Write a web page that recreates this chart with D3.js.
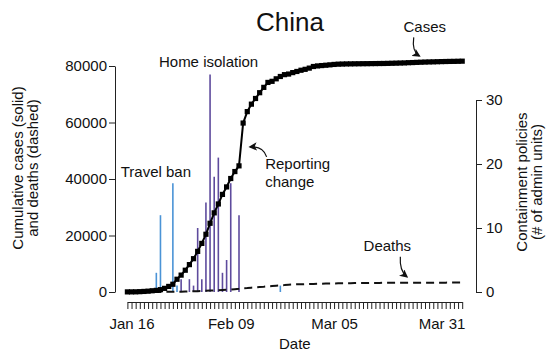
<!DOCTYPE html>
<html>
<head>
<meta charset="utf-8">
<script src="https://cdn.jsdelivr.net/npm/d3@7"></script>
<style>
  body { margin: 0; background: #fff; }
  text { font-family: "Liberation Sans", Arial, Helvetica, sans-serif; fill: #111; }
</style>
</head>
<body>
<svg id="chart" width="550" height="353"></svg>
<script>
// ---- Data: mainland China, daily from 15 Jan to 5 Apr 2020 ----
const firstDay = "2020-01-15";
const lastDay = "2020-04-05";

const cumulativeCases = [
  41, 45, 62, 121, 198, 291, 440, 571, 830, 1287, 1975, 2744, 4515, 5974, 7711, 9692, 11791,
  14380, 17205, 20438, 24324, 28018, 31161, 34546, 37198, 40171, 42638, 44653, 59804, 63851,
  66492, 68500, 70548, 72436, 74185, 74576, 75465, 76288, 76936, 77150, 77658, 78064, 78497,
  78824, 79251, 79824,
  80026, 80151, 80270, 80409, 80552, 80651, 80695, 80735, 80754, 80778, 80793, 80813, 80824,
  80844, 80860, 80881, 80894, 80928, 80967, 81008, 81054, 81093, 81171, 81218, 81285, 81340,
  81394, 81439, 81470, 81518, 81554,
  81589, 81620, 81639, 81669, 81708
];

const cumulativeDeaths = [
  2, 2, 2, 3, 4, 6, 9, 17, 25, 41, 56, 80, 106, 132, 170, 213, 259,
  304, 361, 425, 490, 563, 636, 722, 811, 908, 1016, 1113, 1367, 1380, 1523, 1665, 1770, 1868,
  2004, 2118, 2236, 2345, 2442, 2592, 2663, 2715, 2744, 2788, 2835, 2870,
  2912, 2943, 2981, 3012, 3042, 3070, 3097, 3119, 3136, 3158, 3169, 3176, 3189, 3199, 3213,
  3226, 3237, 3245, 3248, 3255, 3261, 3270, 3277, 3281, 3287, 3292, 3295, 3300, 3304, 3305, 3312,
  3318, 3322, 3326, 3329, 3331
];

// Containment policies (number of admin units adopting on each day)
const travelBanDates  = ["2020-01-22", "2020-01-23", "2020-01-26", "2020-01-27", "2020-02-21"];
const travelBanCounts = [3, 12, 17, 1, 1];

const homeIsolationDates  = ["2020-01-28", "2020-01-30", "2020-01-31", "2020-02-01", "2020-02-02",
                             "2020-02-03", "2020-02-04", "2020-02-05", "2020-02-06", "2020-02-07",
                             "2020-02-08", "2020-02-09", "2020-02-11"];
const homeIsolationCounts = [2, 2, 1, 10, 2, 14, 34, 18, 21, 3, 5, 17, 12];

// Axis ticks
const caseTicks = [0, 20000, 40000, 60000, 80000];
const policyTicks = [0, 10, 20, 30];
const dateLabels = ["2020-01-16", "2020-02-09", "2020-03-05", "2020-03-31"];

// ---- Setup ----
const parse = d3.utcParse("%Y-%m-%d");
const days = d3.utcDay.range(parse(firstDay), d3.utcDay.offset(parse(lastDay), 1));
const series = days.map((d, i) => ({ date: d, cases: cumulativeCases[i], deaths: cumulativeDeaths[i] }));
const travelBan = travelBanDates.map((d, i) => ({ date: parse(d), n: travelBanCounts[i] }));
const homeIsolation = homeIsolationDates.map((d, i) => ({ date: parse(d), n: homeIsolationCounts[i] }));

const svg = d3.select("#chart");

const x = d3.scaleUtc().domain([parse(firstDay), parse(lastDay)]).range([127.4, 462.2]);
const yCases = d3.scaleLinear().domain([0, 80000]).range([292, 66]);
const yPolicy = d3.scaleLinear().domain([0, 30]).range([292, 100]);

const leftAxisX = 115, rightAxisX = 476, bottomAxisY = 302;

// Arrowhead
svg.append("defs").append("marker")
  .attr("id", "head").attr("viewBox", "0 0 10 10")
  .attr("refX", 8).attr("refY", 5)
  .attr("markerWidth", 7).attr("markerHeight", 7)
  .attr("orient", "auto-start-reverse")
  .append("path").attr("d", "M0,0L10,5L0,10L2.5,5Z").attr("fill", "#111");

// Title
svg.append("text").attr("x", 290).attr("y", 31).attr("text-anchor", "middle")
  .style("font-size", "26px").text("China");

// Policy bars
const bars = svg.append("g");
bars.selectAll("line.travel").data(travelBan).join("line")
  .attr("class", "travel")
  .attr("x1", d => x(d.date)).attr("x2", d => x(d.date))
  .attr("y1", yPolicy(0)).attr("y2", d => yPolicy(d.n))
  .attr("stroke", "#4a93d6").attr("stroke-width", 1.6);
bars.selectAll("line.home").data(homeIsolation).join("line")
  .attr("class", "home")
  .attr("x1", d => x(d.date)).attr("x2", d => x(d.date))
  .attr("y1", yPolicy(0)).attr("y2", d => yPolicy(d.n))
  .attr("stroke", "#5e4b9d").attr("stroke-width", 1.6);

// Deaths (dashed)
svg.append("path").datum(series)
  .attr("fill", "none").attr("stroke", "#111").attr("stroke-width", 2)
  .attr("stroke-dasharray", "8,5")
  .attr("d", d3.line().x(d => x(d.date)).y(d => yCases(d.deaths)));

// Cases (solid with square markers)
svg.append("path").datum(series)
  .attr("fill", "none").attr("stroke", "#000").attr("stroke-width", 2)
  .attr("d", d3.line().x(d => x(d.date)).y(d => yCases(d.cases)));
svg.append("g").selectAll("rect").data(series).join("rect")
  .attr("x", d => x(d.date) - 2.6).attr("y", d => yCases(d.cases) - 2.6)
  .attr("width", 5.2).attr("height", 5.2).attr("fill", "#000");

// Axes
function styleAxis(g) {
  g.selectAll("path.domain").attr("stroke", "#222").attr("stroke-width", 1);
  g.selectAll(".tick line").attr("stroke", "#222").attr("stroke-width", 1);
  g.selectAll(".tick text").style("font-size", "15px")
    .style("font-family", '"Liberation Sans", Arial, sans-serif').attr("fill", "#111");
}

svg.append("g").attr("transform", `translate(${leftAxisX},0)`)
  .call(d3.axisLeft(yCases).tickValues(caseTicks).tickSize(6).tickSizeOuter(0).tickPadding(2)
    .tickFormat(d3.format("d")))
  .call(styleAxis);

svg.append("g").attr("transform", `translate(${rightAxisX},0)`)
  .call(d3.axisRight(yPolicy).tickValues(policyTicks).tickSize(6).tickSizeOuter(0).tickPadding(4))
  .call(styleAxis);

const labelSet = new Set(dateLabels);
const fmtKey = d3.utcFormat("%Y-%m-%d");
const fmtLabel = d3.utcFormat("%b %d");
svg.append("g").attr("transform", `translate(0,${bottomAxisY})`)
  .call(d3.axisBottom(x).tickValues(days).tickSize(7).tickSizeOuter(0).tickPadding(9)
    .tickFormat(d => labelSet.has(fmtKey(d)) ? fmtLabel(d) : ""))
  .call(styleAxis);

// Axis titles
svg.append("text").attr("x", (x.range()[0] + x.range()[1]) / 2).attr("y", 349)
  .attr("text-anchor", "middle").style("font-size", "15px").text("Date");

const leftTitle = svg.append("g").attr("transform", "translate(0,168) rotate(-90)");
leftTitle.append("text").attr("x", 0).attr("y", 23).attr("text-anchor", "middle")
  .style("font-size", "15px").text("Cumulative cases (solid)");
leftTitle.append("text").attr("x", 0).attr("y", 38).attr("text-anchor", "middle")
  .style("font-size", "15px").text("and deaths (dashed)");

const rightTitle = svg.append("g").attr("transform", "translate(0,182) rotate(-90)");
rightTitle.append("text").attr("x", 0).attr("y", 527).attr("text-anchor", "middle")
  .style("font-size", "15px").text("Containment policies");
rightTitle.append("text").attr("x", 0).attr("y", 542).attr("text-anchor", "middle")
  .style("font-size", "15px").text("(# of admin units)");

// Annotations
const byDate = new Map(series.map(d => [fmtKey(d.date), d]));

// Cases
{
  const a = byDate.get("2020-03-25");
  const ax = x(a.date), ay = yCases(a.cases);
  svg.append("text").attr("x", ax + 8).attr("y", ay - 30).attr("text-anchor", "middle")
    .style("font-size", "15px").text("Cases");
  svg.append("path").attr("fill", "none").attr("stroke", "#111").attr("stroke-width", 1.2)
    .attr("marker-end", "url(#head)")
    .attr("d", `M${ax - 3},${ay - 25} Q${ax - 5},${ay - 11} ${ax + 2.5},${ay - 6.5}`);
}

// Deaths
{
  const a = byDate.get("2020-03-22");
  const ax = x(a.date), ay = yCases(a.deaths);
  svg.append("text").attr("x", ax - 17).attr("y", ay - 32).attr("text-anchor", "middle")
    .style("font-size", "15px").text("Deaths");
  svg.append("path").attr("fill", "none").attr("stroke", "#111").attr("stroke-width", 1.2)
    .attr("marker-end", "url(#head)")
    .attr("d", `M${ax - 4},${ay - 26} Q${ax - 5},${ay - 12} ${ax + 2.5},${ay - 6}`);
}

// Reporting change
{
  const ax = x(parse("2020-02-12")), ay = yCases(51000);
  svg.append("text").attr("x", ax + 22).attr("y", ay + 21.5)
    .style("font-size", "15px").text("Reporting");
  svg.append("text").attr("x", ax + 22).attr("y", ay + 39)
    .style("font-size", "15px").text("change");
  svg.append("path").attr("fill", "none").attr("stroke", "#111").attr("stroke-width", 1.2)
    .attr("marker-end", "url(#head)")
    .attr("d", `M${ax + 23.5},${ay + 9} Q${ax + 20},${ay - 2} ${ax + 7},${ay - 1}`);
}

// Policy labels
{
  const h = homeIsolation.reduce((m, d) => d.n > m.n ? d : m);
  svg.append("text").attr("x", x(h.date) - 1.5).attr("y", yPolicy(h.n) - 7.5)
    .attr("text-anchor", "middle").style("font-size", "15px").text("Home isolation");
  const t = travelBan.reduce((m, d) => d.n > m.n ? d : m);
  svg.append("text").attr("x", x(t.date) - 17).attr("y", yPolicy(t.n) - 6)
    .attr("text-anchor", "middle").style("font-size", "15px").text("Travel ban");
}
</script>
</body>
</html>
